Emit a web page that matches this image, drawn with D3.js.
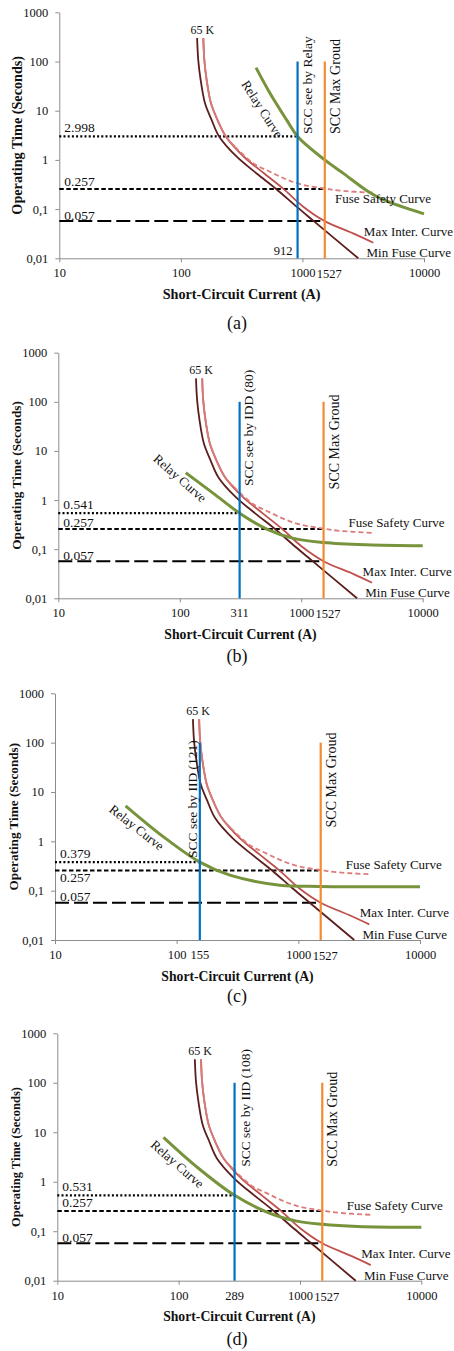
<!DOCTYPE html>
<html>
<head>
<meta charset="utf-8">
<script src="https://cdn.jsdelivr.net/npm/d3@7"></script>
<style>
  body { margin: 0; background: #fff; }
  svg text { font-family: "Liberation Serif", "Times New Roman", serif; fill: #111; }
  .axis path, .axis line { stroke: #8c8c8c; }
  .axis text { font-size: 12.5px; }
</style>
</head>
<body>
<script>
// Axis ticks
var xTickValues = [10, 100, 1000, 10000];
var yTickValues = [1000, 100, 10, 1, 0.1, 0.01];
var yTickLabels = ["1000", "100", "10", "1", "0,1", "0,01"];

// 65K fuse curves (same in every panel)
var minFuse = [
  {x: 136, y: 300}, {x: 139, y: 107}, {x: 145.5, y: 42}, {x: 158, y: 14.1},
  {x: 179, y: 6.5}, {x: 207, y: 2.96}, {x: 288, y: 1.16}, {x: 420, y: 0.53},
  {x: 605, y: 0.26}, {x: 895, y: 0.112}, {x: 1240, y: 0.057}, {x: 2880, y: 0.01}
];
var maxInter = [
  {x: 153, y: 300}, {x: 156, y: 107}, {x: 163, y: 42}, {x: 177, y: 14.1},
  {x: 200, y: 6.5}, {x: 235, y: 2.96}, {x: 330, y: 1.16}, {x: 485, y: 0.53},
  {x: 695, y: 0.26}, {x: 1016, y: 0.112}, {x: 1527, y: 0.057}, {x: 2700, y: 0.031},
  {x: 3830, y: 0.0207}
];
// safety curve follows maxInter down to 235 A, then leaves it
var safetySharedPoints = 6;
var fuseSafety = [
  {x: 279, y: 1.85}, {x: 394, y: 0.853}, {x: 541, y: 0.575}, {x: 741, y: 0.40},
  {x: 1016, y: 0.31}, {x: 1527, y: 0.262}, {x: 2040, y: 0.237}, {x: 3830, y: 0.215}
];

// Relay curves, one per panel
var relayA = [
  {x: 415, y: 75}, {x: 541, y: 22.6}, {x: 741, y: 6.5}, {x: 912, y: 2.998},
  {x: 1527, y: 1.0}, {x: 2200, y: 0.52}, {x: 3370, y: 0.24}, {x: 4620, y: 0.155},
  {x: 10000, y: 0.08}
];
var relayB = [
  {x: 112, y: 3.6}, {x: 189, y: 1.37}, {x: 311, y: 0.541}, {x: 520, y: 0.257},
  {x: 863, y: 0.166}, {x: 1527, y: 0.137}, {x: 3460, y: 0.123}, {x: 10000, y: 0.117}
];
var relayC = [
  {x: 38, y: 5.25}, {x: 78, y: 1.23}, {x: 155, y: 0.379}, {x: 274, y: 0.206},
  {x: 706, y: 0.129}, {x: 1500, y: 0.122}, {x: 10000, y: 0.12}
];
var relayD = [
  {x: 75, y: 7.9}, {x: 141, y: 2.0}, {x: 289, y: 0.531}, {x: 566, y: 0.23},
  {x: 942, y: 0.16}, {x: 1527, y: 0.138}, {x: 3000, y: 0.125}, {x: 10000, y: 0.12}
];

// Per panel values
var panelNames = ["(a)", "(b)", "(c)", "(d)"];
var relayCurves = [relayA, relayB, relayC, relayD];
var sccRelay = [912, 311, 155, 289];
var sccRelayText = ["SCC see by Relay", "SCC see by IDD (80)", "SCC see by IID (121)", "SCC see by IID (108)"];
var relayTime = [2.998, 0.541, 0.379, 0.531];
var sccMaxGround = 1527;
var sccMaxGroundText = "SCC Max Groud";
var safetyTime = 0.257;
var minFuseTime = 0.057;
var vLineTop = 100;

// Layout of the four plots on the page (pixels)
var layout = [
  {left: 59.3, right: 424, top: 12.3, bottom: 258.3, captionY: 329, xTitleSize: 14.2, yTitleSize: 14.2},
  {left: 58.3, right: 422.7, top: 352.7, bottom: 598.3, captionY: 662, xTitleSize: 13.7, yTitleSize: 13.3},
  {left: 55, right: 420, top: 693.3, bottom: 940, captionY: 1002, xTitleSize: 13.7, yTitleSize: 13.2},
  {left: 57.3, right: 421.3, top: 1033.3, bottom: 1280.7, captionY: 1345, xTitleSize: 13.7, yTitleSize: 12.5}
];
// Annotation anchors, in data units
var relayLabelPos = [
  {x: 467, y: 10.8, angle: 57.5},
  {x: 100.5, y: 2.8, angle: 41.3},
  {x: 46.9, y: 1.91, angle: 38},
  {x: 97.5, y: 2.28, angle: 41}
];
var sccLabelPos = [
  {dx: 14.4, y: 3.36}, {dx: 13.5, y: 1.93}, {dx: -3, y: 0.46}, {dx: 15.5, y: 2.0}
];
var groundLabelY = [3.36, 1.65, 1.91, 2.02];
var safetyLabelPos = [
  {x: 1850, y: 0.135}, {x: 2450, y: 0.278}, {x: 2450, y: 0.273}, {x: 2430, y: 0.268}
];
var safetyValueDy = [-3, -2.5, 11.4, -3.6];

var svg = d3.select("body").append("svg")
    .attr("width", 454)
    .attr("height", 1351);

relayCurves.forEach(function(relay, i) {
  var L = layout[i];
  var xScale = d3.scaleLog().domain([10, 10000]).range([L.left, L.right]);
  var yScale = d3.scaleLog().domain([0.01, 1000]).range([L.bottom, L.top]);
  var line = d3.line()
    .x(function(d) { return xScale(d.x); })
    .y(function(d) { return yScale(d.y); })
    .curve(d3.curveCatmullRom.alpha(0.5));

  var g = svg.append("g");

  // axes
  g.append("g")
      .attr("class", "axis")
      .attr("transform", "translate(0," + L.bottom + ")")
      .call(d3.axisBottom(xScale).tickValues(xTickValues).tickFormat(d3.format("d"))
        .tickSize(4).tickSizeOuter(0).tickPadding(6));
  g.append("g")
      .attr("class", "axis")
      .attr("transform", "translate(" + L.left + ",0)")
      .call(d3.axisLeft(yScale).tickValues(yTickValues)
        .tickFormat(function(d, k) { return yTickLabels[k]; })
        .tickSize(4).tickSizeOuter(0).tickPadding(7));
  g.selectAll(".axis .domain").attr("stroke", "#8c8c8c");
  g.selectAll(".axis text").attr("fill", "#111");

  // horizontal reference lines
  var x0 = xScale(10);
  g.append("line")
      .attr("x1", x0).attr("x2", xScale(sccRelay[i]))
      .attr("y1", yScale(relayTime[i])).attr("y2", yScale(relayTime[i]))
      .attr("stroke", "#000").attr("stroke-width", 2.2).attr("stroke-dasharray", "2,2.2");
  g.append("line")
      .attr("x1", x0).attr("x2", xScale(sccMaxGround))
      .attr("y1", yScale(safetyTime)).attr("y2", yScale(safetyTime))
      .attr("stroke", "#000").attr("stroke-width", 2).attr("stroke-dasharray", "4.5,2.5");
  g.append("line")
      .attr("x1", x0).attr("x2", xScale(sccMaxGround))
      .attr("y1", yScale(minFuseTime)).attr("y2", yScale(minFuseTime))
      .attr("stroke", "#000").attr("stroke-width", 2).attr("stroke-dasharray", "14,5");

  // curves
  g.append("path").datum(maxInter).attr("d", line)
      .attr("fill", "none").attr("stroke", "#c0504d").attr("stroke-width", 1.8);
  g.append("path").datum(maxInter.slice(0, safetySharedPoints).concat([fuseSafety[0]])).attr("d", line)
      .attr("fill", "none").attr("stroke", "#d77b79").attr("stroke-width", 1.8);
  g.append("path").datum(fuseSafety).attr("d", line)
      .attr("fill", "none").attr("stroke", "#dc7d7b").attr("stroke-width", 1.8)
      .attr("stroke-dasharray", "5,3");
  g.append("path").datum(minFuse).attr("d", line)
      .attr("fill", "none").attr("stroke", "#5c1e1c").attr("stroke-width", 1.8);
  g.append("path").datum(relay).attr("d", line)
      .attr("fill", "none").attr("stroke", "#77933c").attr("stroke-width", 3);

  // vertical SCC lines
  g.append("line")
      .attr("x1", xScale(sccRelay[i])).attr("x2", xScale(sccRelay[i]))
      .attr("y1", yScale(0.01)).attr("y2", yScale(vLineTop))
      .attr("stroke", "#0070c0").attr("stroke-width", 2.2);
  g.append("line")
      .attr("x1", xScale(sccMaxGround)).attr("x2", xScale(sccMaxGround))
      .attr("y1", yScale(0.01)).attr("y2", yScale(vLineTop))
      .attr("stroke", "#f28a30").attr("stroke-width", 2.2);

  // vertical labels
  g.append("text")
      .attr("transform", "translate(" + (xScale(sccRelay[i]) + sccLabelPos[i].dx) + "," +
        yScale(sccLabelPos[i].y) + ") rotate(-90)")
      .attr("font-size", 13.5)
      .text(sccRelayText[i]);
  g.append("text")
      .attr("transform", "translate(" + (xScale(sccMaxGround) + 15) + "," +
        yScale(groundLabelY[i]) + ") rotate(-90)")
      .attr("font-size", 14)
      .text(sccMaxGroundText);

  // relay label
  var rp = relayLabelPos[i];
  g.append("text")
      .attr("transform", "translate(" + xScale(rp.x) + "," + yScale(rp.y) + ") rotate(" + rp.angle + ")")
      .attr("text-anchor", "middle").attr("dominant-baseline", "central")
      .attr("font-size", 13)
      .text("Relay Curve");

  // fuse label and curve names
  g.append("text")
      .attr("x", xScale(150)).attr("y", yScale(363))
      .attr("text-anchor", "middle").attr("font-size", 12)
      .text("65 K");
  g.append("text")
      .attr("x", xScale(safetyLabelPos[i].x)).attr("y", yScale(safetyLabelPos[i].y))
      .attr("font-size", 13).text("Fuse Safety Curve");
  g.append("text")
      .attr("x", xScale(3200)).attr("y", yScale(0.029))
      .attr("font-size", 13).text("Max Inter. Curve");
  g.append("text")
      .attr("x", xScale(3370)).attr("y", yScale(0.0105))
      .attr("font-size", 13).text("Min Fuse Curve");

  // reference values
  g.append("text")
      .attr("x", x0 + 5).attr("y", yScale(relayTime[i]) - 4)
      .attr("font-size", 13.5).text(relayTime[i].toFixed(3));
  g.append("text")
      .attr("x", x0 + 5).attr("y", yScale(safetyTime) + safetyValueDy[i])
      .attr("font-size", 13.5).text(safetyTime.toFixed(3));
  g.append("text")
      .attr("x", x0 + 5).attr("y", yScale(minFuseTime) - 1.5)
      .attr("font-size", 13.5).text(minFuseTime.toFixed(3));

  // current values under the axis
  if (i === 0) {
    g.append("text")
        .attr("x", xScale(sccRelay[i]) - 5).attr("y", L.bottom - 3.3)
        .attr("text-anchor", "end").attr("font-size", 12.5)
        .text(sccRelay[i]);
  } else {
    g.append("text")
        .attr("x", xScale(sccRelay[i])).attr("y", L.bottom + 19)
        .attr("text-anchor", "middle").attr("font-size", 12.5)
        .text(sccRelay[i]);
  }
  g.append("text")
      .attr("x", xScale(sccMaxGround) + 4.5).attr("y", L.bottom + 20)
      .attr("text-anchor", "middle").attr("font-size", 12.5)
      .text(sccMaxGround);

  // axis titles and caption
  g.append("text")
      .attr("x", (L.left + L.right) / 2).attr("y", L.bottom + 40.5)
      .attr("text-anchor", "middle").attr("font-size", L.xTitleSize).attr("font-weight", "bold")
      .text("Short-Circuit Current (A)");
  g.append("text")
      .attr("transform", "translate(" + (L.left - 37.5) + "," + ((L.top + L.bottom) / 2) + ") rotate(-90)")
      .attr("text-anchor", "middle").attr("font-size", L.yTitleSize).attr("font-weight", "bold")
      .text("Operating Time (Seconds)");
  g.append("text")
      .attr("x", 237).attr("y", L.captionY)
      .attr("text-anchor", "middle").attr("font-size", 18)
      .text(panelNames[i]);
});
</script>
</body>
</html>
